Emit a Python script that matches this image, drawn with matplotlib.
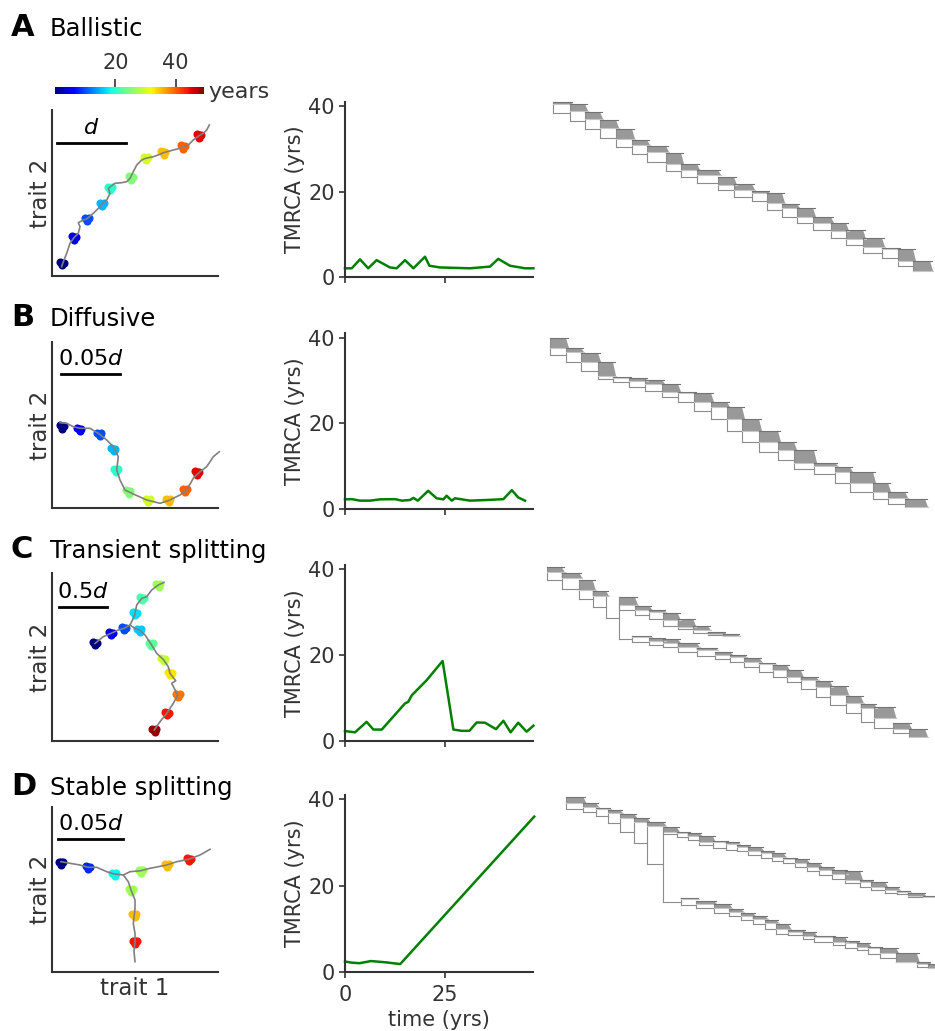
import matplotlib
matplotlib.use('Agg')
import matplotlib.pyplot as plt
import matplotlib.cm as cm
from matplotlib.colors import Normalize
import numpy as np

W, H = 935, 1031
INK = '0.2'

# ---------------- data ----------------
# panel headers
letters = ['A', 'B', 'C', 'D']
titles = ['Ballistic', 'Diffusive', 'Transient splitting', 'Stable splitting']
scale_labels = ['$d$', '$0.05d$', '$0.5d$', '$0.05d$']
scale_x0 = [5.3, 9.3, 7.6, 6.6]
scale_x1 = [74.3, 68.3, 55.6, 71.0]
scale_y = [133, 134, 134, 132.7]

# trait-space trajectories (trait 1, trait 2), one or more branches per panel
trajA = [[(10, 9.3), (11.6, 14.3), (15, 22.7), (18.3, 32.7), (22.3, 38.3), (26.6, 42.7),
          (28.3, 49.3), (26.6, 53.3), (31.6, 56), (35, 57), (41.6, 62.7), (48.3, 69.3),
          (50, 72), (55, 76), (58.3, 82.7), (56.6, 87.7), (63.3, 92.7), (70, 93.3),
          (75, 94.3), (78.3, 97.7), (81.6, 104.3), (85, 111), (90, 116), (94, 117.7),
          (101.6, 119.3), (108.3, 121.7), (111.6, 123.3), (121.6, 126), (128.3, 127.7),
          (131, 129.3), (136.6, 131), (141.6, 136), (147.3, 140.3), (151.6, 142.7),
          (155, 146), (157.6, 151)]]
trajB = [[(8.3, 85.6), (15, 85), (21.6, 81.6), (28.3, 80), (38.3, 80), (47.6, 74.3),
          (55, 68.3), (61.6, 61.6), (66.6, 51.6), (65, 38.3), (68.3, 28.3), (73.3, 18.3),
          (81.6, 14.3), (95, 8.3), (108.3, 5), (116.6, 7.6), (128.3, 13.3), (135, 18.3),
          (141.6, 30), (148.3, 36.6), (155, 41.6), (161.6, 51.6), (167.6, 56.6)]]
trajC = [[(43.3, 97.3), (51.6, 104), (59.3, 107.3), (66.6, 110.7), (72.3, 112.3), (78.3, 115.7),
          (81.6, 122.3), (83.3, 127.3), (85, 135.7), (90, 142.3), (95, 144), (100, 150.7),
          (106.6, 155.7), (112.3, 158.3)],
         [(78.3, 115.7), (83.3, 112.3), (87.6, 110.7), (93.3, 105.7), (99.3, 96.7), (105, 87.3),
          (111.6, 81.3), (116.6, 74), (118.3, 67.3), (124, 60), (120, 57.3), (126, 45.7),
          (121.6, 37.3), (115, 27.3), (108.3, 19), (102.6, 10.7)]]
trajD = [[(9.3, 110), (18.3, 108.4), (28.3, 106.7), (36, 104.4), (45, 104.4), (55, 100),
          (62.6, 97.7), (71.6, 96.7), (78.3, 100), (89.3, 101), (98.3, 103.4), (106.6, 105),
          (115, 106.7), (125, 110), (137, 112.4), (148.3, 116.7), (158.3, 122.4)],
         [(71.6, 96.7), (76.6, 90), (79.3, 81.7), (83.3, 71.7), (83.3, 63.3), (82.6, 56.7),
          (81.6, 48.3), (83.3, 38.3), (83.3, 30), (82.3, 20), (83.3, 10)]]
trajectories = [trajA, trajB, trajC, trajD]

# sampled clusters: centre (trait 1, trait 2) and sampling year
clusA_xy = [(10, 12.7), (22.3, 38.3), (35, 57), (50, 72), (58.3, 87.7), (79.3, 98.3),
            (94, 117.7), (111.6, 123.3), (131, 129.3), (147.3, 140.3)]
clusA_t = [0, 5, 10, 15, 20, 25, 30, 35, 40, 45]
clusB_xy = [(10, 81.7), (27.6, 79), (47.6, 74.3), (61.6, 59), (64.3, 38.3), (76.6, 16.7),
            (96, 8.3), (116.6, 8.3), (133.3, 18.3), (145, 35.7)]
clusB_t = [0, 5, 10, 15, 20, 25, 30, 35, 40, 45]
clusC_xy = [(43.3, 97.3), (59.3, 107.3), (72.3, 112.3), (83.3, 127.3), (90, 142.3),
            (106.6, 155.7), (87.6, 110.7), (99.3, 96.7), (111.6, 81.3), (118.3, 67.3),
            (126, 45.7), (115, 27.3), (102.6, 10.7)]
clusC_t = [0, 5, 10, 17, 22, 27, 16, 23, 29, 33, 39, 44, 48.5]
clusD_xy = [(9.3, 109), (36, 104.4), (62.6, 97.7), (89.3, 101), (115, 106.7), (137, 112.4),
            (79.3, 81.7), (82.6, 56.7), (83.3, 30)]
clusD_t = [0, 8, 18, 27, 35, 44, 27, 35, 44]
clusters_xy = [clusA_xy, clusB_xy, clusC_xy, clusD_xy]
clusters_t = [clusA_t, clusB_t, clusC_t, clusD_t]

# TMRCA through time
tA = [0, 1.7, 3.75, 5.8, 7.9, 11.25, 12.9, 15, 17.1, 20, 21.1, 23.75, 31.25, 36.25, 38.3, 41.25, 45, 47.1]
yA = [2.1, 2.1, 4.2, 2.1, 4.0, 2.3, 2.1, 4.0, 2.1, 4.8, 2.7, 2.3, 2.1, 2.5, 4.3, 2.7, 2.1, 2.1]
tB = [0, 1.7, 3.75, 6.25, 8.75, 12.5, 14.2, 16.25, 17.1, 18.2, 20.8, 22.9, 24.6, 25.4, 26.7,
      27.5, 31.25, 35.4, 39.6, 41.7, 43.3, 45]
yB = [2.25, 2.3, 1.95, 1.95, 2.25, 2.3, 1.95, 2.1, 2.6, 1.95, 4.25, 2.5, 2.25, 3.1, 1.95,
      2.5, 1.95, 2.1, 2.3, 4.4, 2.7, 1.95]
tC = [0, 2.5, 5.4, 7.1, 9.2, 15, 15.8, 16.7, 20.4, 24.4, 27.1, 29.2, 31.1, 32.9, 35, 37.75,
      39.6, 41.4, 43.3, 45.4, 47.1]
yC = [2.25, 1.95, 4.4, 2.6, 2.6, 8.7, 9.05, 10.6, 14.1, 18.6, 2.6, 2.3, 2.3, 4.25, 4.2, 2.7,
      4.65, 1.95, 4.2, 2.1, 3.5]
tD = [0, 1.5, 3.6, 6.5, 10.25, 13.8, 47.3]
yD = [2.5, 2.25, 2.1, 2.6, 2.3, 1.9, 36.0]
tmrca_t = [tA, tB, tC, tD]
tmrca_y = [yA, yB, yC, yD]

# genealogies: each lineage = node time, leaf-block top, leaf-block bottom, lower branch, end
treeA = [dict(x=[13, 30, 45, 60, 76, 92, 107, 126, 141, 157, 178, 194, 212, 227, 242, 257, 273, 291, 306, 323, 342, 358, 373],
              top=[12, 14, 22, 30, 39, 50, 56, 63, 74, 80, 87, 94, 101, 103, 114, 118, 127, 133, 140, 148, 158, 159, 171],
              bot=[14, 21, 29, 38, 49, 55, 62, 74, 80, 85, 95, 100, 103, 113, 118, 127, 133, 141, 149, 157, 159, 171, 181],
              low=[23, 31, 39, 48, 57, 64, 72, 81, 87, 93, 100, 107, 111, 120, 127, 133, 140, 148, 155, 163, 168, 176, 181],
              end=390)]
treeB = [dict(x=[10, 26, 41, 58, 73, 89, 105, 122, 138, 154, 171, 187, 202, 219, 238, 254, 274, 295, 310, 333, 348, 365],
              top=[18, 28, 33, 42, 57, 58, 60, 64, 72, 73, 82, 87, 99, 111, 122, 130, 143, 147, 152, 163, 172, 179],
              bot=[28, 32, 42, 56, 58, 61, 64, 72, 73, 82, 87, 99, 111, 122, 130, 143, 146, 152, 163, 172, 178, 187],
              low=[35, 42, 51, 59, 62, 67, 71, 77, 82, 91, 99, 111, 122, 132, 140, 149, 154, 163, 172, 179, 184, 187],
              end=385)]
treeC = [dict(x=[7.3, 21.7, 39.3, 52.7, 66, 79.3, 95, 109.3, 123.3, 137.7, 153.3, 167.7, 183.3],
              top=[12, 18, 25, 36, 42, 42, 51, 55, 58, 64, 71, 77, 79],
              bot=[17, 23, 35, 41, 42, 50, 55, 57, 65, 72, 75, 79, 81],
              low=[25, 34, 44, 52, 63, 55, 60, 64, 71, 74, 78, 80, 81],
              end=197),
         dict(x=[79.3, 92.3, 109.3, 123.3, 137.7, 156.7, 175, 190, 204, 219.3, 232.7, 246.7, 260.7,
                 275.7, 290, 306, 320.7, 334, 353.3, 369],
              top=[42, 81, 83, 84, 88, 93, 97, 100, 103, 108, 110, 115, 122, 126, 131, 141, 149, 152, 168, 174],
              bot=[42, 82, 86, 88, 92, 95, 100, 102, 107, 109, 115, 122, 125, 132, 140, 148, 153, 163, 174, 182],
              low=[84, 87, 90, 92, 97, 101, 104, 107, 112, 117, 122, 127, 134, 142, 150, 158, 167, 173, 178, 182],
              end=385)]
treeD = [dict(x=[26, 43.3, 56, 68.3, 80, 94.3, 107.3, 123.3, 136.7, 147.7, 159.3, 172.7, 185.7, 197.3,
                 208.3, 221, 232.3, 243.3, 255, 266.7, 279.3, 292.3, 305, 320, 331, 345, 357.3, 368.3, 383.3],
              top=[17, 23, 28, 30, 34, 38, 42, 47, 52, 53, 56, 61, 62, 65, 67, 71, 73, 78, 79, 83, 87, 90,
                   91, 100, 102, 107, 111, 113, 116],
              bot=[23, 27, 29, 33, 38, 42, 46, 52, 53, 56, 62, 62, 64, 67, 71, 73, 77, 79, 83, 87, 90, 94,
                   100, 102, 107, 110, 112, 116, 117],
              low=[29, 32, 36, 43, 52, 63, 84, 54, 57, 60, 65, 68, 70, 71, 75, 78, 81, 83, 87, 91, 95, 99,
                   103, 107, 110, 113, 114, 117, 117],
              end=395),
         dict(x=[123.3, 140.7, 156, 174, 189.3, 201, 212.7, 225, 236, 248.3, 262.7, 274.3, 293.3, 305,
                 317.3, 328.3, 340, 356, 376.7, 388.3],
              top=[47, 118, 121, 124, 129, 133, 136, 140, 144, 150, 152, 156, 157, 161, 163, 167, 168, 173, 182, 184],
              bot=[47, 119, 124, 128, 132, 136, 139, 143, 149, 152, 156, 157, 162, 163, 167, 168, 173, 182, 184, 188],
              low=[122, 125, 128, 133, 136, 140, 144, 149, 154, 155, 159, 162, 165, 168, 170, 174, 178, 182, 187, 188],
              end=395)]
trees = [treeA, treeB, treeC, treeD]

# ---------------- layout (pixel boxes) ----------------
trait_box = [(110, 276), (341.7, 508.3), (573.3, 740.7), (806.7, 971.7)]
tmrca_box = [(101.7, 277.3), (333.3, 509), (565, 740.7), (795, 972.3)]
tree_top = [90, 320, 555, 780]
head_base = [36, 326, 558, 795]

fig = plt.figure(figsize=(W / 100, H / 100), dpi=100)


def px_axes(left, top, right, bottom):
    return fig.add_axes([left / W, 1 - bottom / H, (right - left) / W, (bottom - top) / H])


norm = Normalize(0, 49.5)
cmap = matplotlib.colormaps['jet']
blob = [(-2.2, 1.2), (2.0, 0.8), (0.2, -1.9), (0, 0.4)]


def draw_lineage(ax, lin):
    xs, tops, bots, lows = lin['x'], lin['top'], lin['bot'], lin['low']
    n = len(xs)
    for i in range(n):
        x0 = xs[i]
        x1 = xs[i + 1] if i < n - 1 else lin['end']
        ax.plot([x0, x0], [tops[i], lows[i]], color='0.55', lw=0.8)
        if i < n - 1:
            ax.plot([x0, x1], [lows[i], lows[i]], color='0.55', lw=0.8)
        if bots[i] > tops[i]:
            ax.fill([x0, x1, x1 + 3, x0], [tops[i], tops[i], bots[i], bots[i]],
                    color='0.6', lw=0)
            ax.plot([x0, x1 + 2], [tops[i], tops[i]], color='0.45', lw=0.8)
            ax.plot([x0, x1 + 3], [bots[i], bots[i]], color='0.78', lw=0.8)


for r in range(4):
    # --- trait space panel
    top, bot = trait_box[r]
    ax = px_axes(51.7, top, 218.3, bot)
    ax.set_xlim(0, 166.6)
    ax.set_ylim(0, bot - top)
    for branch in trajectories[r]:
        bx = [p[0] for p in branch]
        by = [p[1] for p in branch]
        ax.plot(bx, by, color='0.5', lw=1.2, zorder=3, clip_on=False)
    for (cx, cy), t in zip(clusters_xy[r], clusters_t[r]):
        ax.scatter([cx + dx for dx, dy in blob], [cy + dy for dx, dy in blob], s=34,
                   color=cmap(norm(t)), lw=0, zorder=2, clip_on=False)
    ax.plot([scale_x0[r], scale_x1[r]], [scale_y[r], scale_y[r]], color='k', lw=2)
    ax.text((scale_x0[r] + scale_x1[r]) / 2, scale_y[r] + 5, scale_labels[r],
            ha='center', va='bottom', fontsize=16, color='k')
    for s in ['top', 'right']:
        ax.spines[s].set_visible(False)
    for s in ['left', 'bottom']:
        ax.spines[s].set_color(INK)
        ax.spines[s].set_linewidth(1.5)
    ax.set_xticks([])
    ax.set_yticks([])
    ax.set_ylabel('trait 2', fontsize=16.5, color=INK, labelpad=0)
    if r == 3:
        ax.set_xlabel('trait 1', fontsize=16.5, color=INK, labelpad=4)

    # --- TMRCA panel
    top, bot = tmrca_box[r]
    ax2 = px_axes(345, top, 533, bot)
    ax2.plot(tmrca_t[r], tmrca_y[r], color='green', lw=1.8, clip_on=False)
    ax2.set_xlim(0, 47)
    ax2.set_ylim(0, 41)
    ax2.set_yticks([0, 20, 40])
    ax2.set_xticks([0, 25])
    for s in ['top', 'right']:
        ax2.spines[s].set_visible(False)
    for s in ['left', 'bottom']:
        ax2.spines[s].set_color(INK)
        ax2.spines[s].set_linewidth(1.5)
    ax2.tick_params(length=4.5, width=1.2, colors=INK, labelsize=15, pad=3)
    ax2.set_ylabel('TMRCA (yrs)', fontsize=15, color=INK, labelpad=2)
    if r == 3:
        ax2.tick_params(axis='x', pad=5)
        ax2.set_xlabel('time (yrs)', fontsize=15, color=INK, labelpad=3)
    else:
        ax2.set_xticklabels([])

    # --- genealogy
    ax3 = px_axes(540, tree_top[r], 935, tree_top[r] + 200)
    ax3.set_xlim(0, 395)
    ax3.set_ylim(200, 0)
    ax3.axis('off')
    for lin in trees[r]:
        draw_lineage(ax3, lin)

    # --- headers
    fig.text(11 / W, 1 - head_base[r] / H, letters[r], fontsize=22, fontweight='bold',
             color='k', va='baseline')
    fig.text(50 / W, 1 - head_base[r] / H, titles[r], fontsize=17.5, color='k', va='baseline')

# colour bar for sampling year
cax = px_axes(55, 87.3, 204.3, 94)
sm = cm.ScalarMappable(norm=norm, cmap=cmap)
cb = fig.colorbar(sm, cax=cax, orientation='horizontal', ticklocation='top')
cb.set_ticks([20, 40])
cb.outline.set_visible(False)
cax.tick_params(length=5.5, width=1.2, colors=INK, labelsize=15, pad=5)
cax.text(1.03, 0.3, 'years', transform=cax.transAxes, fontsize=16, color=INK,
         ha='left', va='center')

fig.savefig('out.png', dpi=100)
